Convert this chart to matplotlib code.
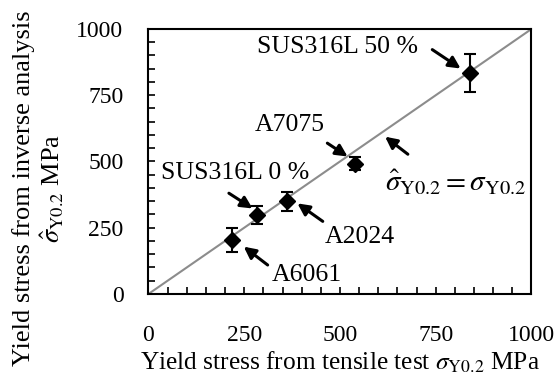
import matplotlib
matplotlib.use('Agg')
import matplotlib.pyplot as plt
import numpy as np

plt.rcParams['font.family'] = ['Liberation Serif', 'DejaVu Serif']
plt.rcParams['mathtext.fontset'] = 'stix'

# data
names = ['A6061', 'SUS316L 0 %', 'A2024', 'A7075', 'SUS316L 50 %']
tensile = [219, 283, 361, 539, 839]
inverse = [204, 298, 350, 492, 835]
err = [44, 35, 36, 24, 72]
ident = [0, 1000]

# label placement: text (x, y), arrow tail, arrow head
text_pos = [(322, 72), (34, 457), (461, 216), (278, 638), (283, 933)]
arrow_from = [(317, 103), (204, 386), (461, 268), (461, 575), (735, 928)]
arrow_to = [(243, 185), (278, 317), (383, 348), (526, 513), (821, 845)]

fig = plt.figure(figsize=(5.58, 3.79), dpi=100)
ax = fig.add_axes([0.266, 0.2243, 0.6865, 0.6992])

ax.plot(ident, ident, color='#8c8c8c', lw=1.5, zorder=1)
ax.errorbar(tensile, inverse, yerr=err, fmt='D', color='black', ms=8,
            ecolor='black', elinewidth=1.5, capsize=4.5, capthick=1.5, zorder=3)

arrow = dict(arrowstyle='-|>,head_length=0.7,head_width=0.35', color='black', lw=2.2)
for n, tp, af, at in zip(names, text_pos, arrow_from, arrow_to):
    ax.text(tp[0], tp[1], n, fontsize=18.5, ha='left', va='center')
    ax.annotate('', xy=at, xytext=af, arrowprops=arrow)

ax.text(617, 419, r'$\hat{\sigma}_{\mathrm{Y0.2}} = \sigma_{\mathrm{Y0.2}}$', fontsize=21,
        ha='left', va='center')
ax.annotate('', xy=(612, 600), xytext=(683, 521), arrowprops=arrow)

ax.set_xlim(0, 1000)
ax.set_ylim(0, 1000)
ax.set_xticks([0, 250, 500, 750, 1000])
ax.set_yticks([0, 250, 500, 750, 1000])
ax.set_xticks(np.arange(0, 1001, 50), minor=True)
ax.set_yticks(np.arange(0, 1001, 50), minor=True)
ax.tick_params(which='both', direction='in', length=5, width=1.2, labelsize=17)
ax.tick_params(axis='x', pad=22)
ax.tick_params(axis='y', pad=18)
for s in ax.spines.values():
    s.set_linewidth(1.5)

ax.set_xlabel(r'Yield stress from tensile test $\sigma_{\mathrm{Y0.2}}$ MPa', fontsize=18.3,
              labelpad=3)
ax.set_ylabel('Yield stress from inverse analysis\n' + r'$\hat{\sigma}_{\mathrm{Y0.2}}$ MPa',
              fontsize=19, linespacing=1.15)
ax.yaxis.set_label_coords(-0.215, 0.40)

fig.savefig('out.png', dpi=100)
